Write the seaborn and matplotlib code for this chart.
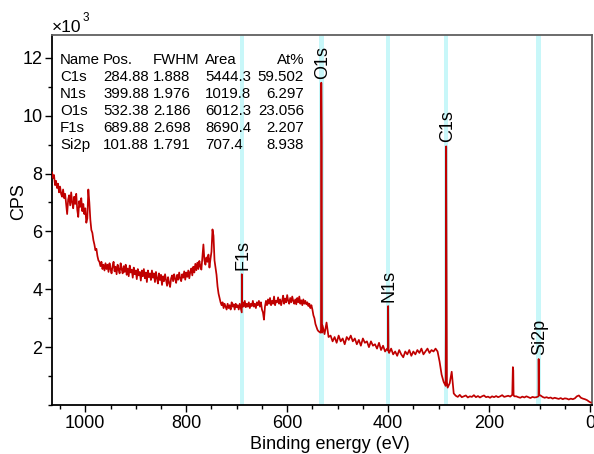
import numpy as np
import pandas as pd
import matplotlib
matplotlib.use("Agg")
import matplotlib.pyplot as plt
from matplotlib.ticker import MultipleLocator, FixedLocator
import seaborn as sns

# ---------------- data (counts in thousands of CPS) ----------------
# background survey spectrum: 2 eV grid from 1066 to 540 eV, 4 eV grid from 538 to -2 eV
bg_be = list(range(1066, 539, -2)) + list(range(538, -3, -4))
bg_cps = [
    # 1066 .. 992
    8.05, 7.85, 7.95, 7.60, 7.75, 7.50, 7.65, 7.35, 7.55, 7.30,
    7.20, 7.45, 7.15, 7.30, 6.95, 6.60, 7.10, 7.25, 6.90, 7.35,
    7.00, 6.80, 7.20, 6.95, 7.30, 6.75, 6.50, 7.05, 6.85, 7.15,
    6.70, 6.95, 6.60, 6.80, 6.30, 6.45, 7.45, 7.00,
    # 990 .. 960
    6.40, 6.05, 5.95, 5.70, 5.55, 5.35, 5.40, 5.15, 5.00, 4.95,
    4.80, 4.95, 4.70, 4.85, 4.65, 4.90,
    # 958 .. 830
    4.70, 4.85, 4.60, 4.90, 4.70, 4.55, 4.80, 4.95, 4.62, 4.78,
    4.52, 4.85, 4.68, 4.55, 4.90, 4.70, 4.55, 4.80, 4.60, 4.85,
    4.50, 4.72, 4.45, 4.82, 4.58, 4.68, 4.40, 4.75, 4.52, 4.65,
    4.35, 4.70, 4.48, 4.60, 4.30, 4.65, 4.45, 4.70, 4.38, 4.58,
    4.25, 4.65, 4.42, 4.55, 4.32, 4.65, 4.40, 4.55, 4.25, 4.60,
    4.38, 4.20, 4.55, 4.32, 4.50, 4.15, 4.45, 4.28, 4.52, 4.32,
    4.12, 4.42, 4.22, 4.08, 4.38,
    # 828 .. 740
    4.48, 4.28, 4.52, 4.36, 4.22, 4.50, 4.33, 4.58, 4.38, 4.28,
    4.52, 4.40, 4.62, 4.33, 4.58, 4.43, 4.65, 4.38, 4.60, 4.72,
    4.48, 4.78, 4.58, 4.88, 4.66, 4.92, 4.70, 4.98, 4.78, 4.68,
    5.10, 5.55, 5.00, 4.85, 5.10, 4.95, 5.20, 4.75, 5.05, 5.30,
    6.07, 5.85, 5.00, 4.75, 4.50,
    # 738 .. 540
    4.10, 3.85, 3.70, 3.55, 3.45, 3.55, 3.35, 3.50, 3.40, 3.30,
    3.50, 3.35, 3.45, 3.30, 3.55, 3.40, 3.48, 3.30, 3.50, 3.38,
    3.45, 3.30, 3.50, 3.35, 3.20, 3.55, 3.40, 3.60, 3.38, 3.50,
    3.40, 3.55, 3.35, 3.50, 3.42, 3.60, 3.40, 3.50, 3.35, 3.55,
    3.45, 3.60, 3.40, 3.55, 3.30, 3.20, 2.95, 3.40, 3.60, 3.45,
    3.65, 3.50, 3.70, 3.45, 3.60, 3.50, 3.75, 3.45, 3.60, 3.55,
    3.72, 3.50, 3.65, 3.45, 3.60, 3.78, 3.50, 3.68, 3.55, 3.80,
    3.60, 3.50, 3.70, 3.55, 3.75, 3.60, 3.50, 3.65, 3.48, 3.70,
    3.55, 3.75, 3.50, 3.62, 3.45, 3.65, 3.50, 3.60, 3.48, 3.55,
    3.42, 3.50, 3.35, 3.45, 3.30, 3.10, 3.00, 2.80, 2.70, 2.60,
    # 538 .. -2 (4 eV)
    2.55, 2.50, 2.75, 2.45, 2.85, 2.35, 2.40, 2.20,
    2.35, 2.15, 2.40, 2.20, 2.30, 2.10, 2.35, 2.25, 2.40, 2.20,
    2.30, 2.10, 2.25, 2.05, 2.30, 2.15, 2.20, 2.00, 2.20, 2.05,
    2.10, 1.95, 2.15, 1.90, 2.05, 1.85, 1.95, 1.80, 1.95, 1.75,
    1.85, 1.70, 1.90, 1.75, 1.65, 1.85, 1.75, 1.90, 1.70, 1.85,
    1.75, 1.90, 1.80, 1.95, 1.75, 1.85, 1.95, 1.80, 1.90, 1.85,
    1.95, 1.85, 1.50, 1.05, 0.80, 0.66, 0.60, 0.75, 1.15, 0.40,
    0.32, 0.28, 0.35, 0.27, 0.30, 0.33, 0.26, 0.30, 0.28, 0.34,
    0.27, 0.31, 0.26, 0.30, 0.33, 0.27, 0.29, 0.25, 0.30, 0.27,
    0.31, 0.27, 0.30, 0.34, 0.28, 0.30, 0.32, 0.29, 0.35, 0.30,
    0.30, 0.27, 0.25, 0.29, 0.26, 0.30, 0.27, 0.24, 0.28, 0.26,
    0.27, 0.30, 0.33, 0.28, 0.25, 0.27, 0.24, 0.26, 0.22, 0.25,
    0.23, 0.21, 0.24, 0.20, 0.23, 0.22, 0.19, 0.22, 0.20, 0.23,
    0.30, 0.33, 0.25, 0.22, 0.20, 0.17, 0.12, 0.08,
]

# sharp photoelectron lines (points read from the spikes)
pk_be = [689.9, 689.2,
         533.0, 532.4, 531.6, 531.0,
         400.5, 399.9, 399.2,
         285.6, 284.9, 284.2, 283.5,
         152.8, 152.0, 151.4,
         101.7, 101.1]
pk_cps = [4.52, 3.40,
          2.60, 11.14, 9.07, 2.50,
          1.90, 3.42, 1.85,
          2.56, 8.94, 5.32, 0.80,
          1.31, 1.20, 0.35,
          1.59, 0.35]

# peak labels / marker bands
peak_names = ["F1s", "O1s", "N1s", "C1s", "Si2p"]
peak_pos = [689.88, 532.38, 399.88, 284.88, 101.88]
peak_top = [4.52, 11.14, 3.42, 8.94, 1.59]

# quantification table
tbl_header = ["Name", "Pos.", "FWHM", "Area", "At%"]
tbl_name = ["C1s", "N1s", "O1s", "F1s", "Si2p"]
tbl_pos = ["284.88", "399.88", "532.38", "689.88", "101.88"]
tbl_fwhm = ["1.888", "1.976", "2.186", "2.698", "1.791"]
tbl_area = ["5444.3", "1019.8", "6012.3", "8690.4", "707.4"]
tbl_at = ["59.502", "6.297", "23.056", "2.207", "8.938"]

x_major = [1000, 800, 600, 400, 200, 0]
y_major = [2, 4, 6, 8, 10, 12]

# ---------------- build dataframe ----------------
df = pd.DataFrame({"be": bg_be + pk_be, "cps": bg_cps + pk_cps})
df = df.sort_values("be", ascending=False).reset_index(drop=True)

# ---------------- plot ----------------
sns.set_style("ticks")
plt.rcParams["font.family"] = ["Liberation Sans", "DejaVu Sans"]
plt.rcParams["text.color"] = "black"
plt.rcParams["axes.labelcolor"] = "black"
plt.rcParams["xtick.color"] = "black"
plt.rcParams["ytick.color"] = "black"

W, H = 594, 454
fig = plt.figure(figsize=(W / 100, H / 100), dpi=100)
L, R, T, B = 52, 592, 35, 405
ax = fig.add_axes([L / W, 1 - B / H, (R - L) / W, (B - T) / H])

band_c = "#c8f7f9"
for p in peak_pos:
    ax.axvspan(p + 4.5, p - 4.5, color=band_c, lw=0, zorder=0)

sns.lineplot(data=df, x="be", y="cps", estimator=None, sort=False,
             color="#c00000", lw=1.25, ax=ax, zorder=3)

for name, p, h in zip(peak_names, peak_pos, peak_top):
    ax.annotate(name, (p, h), xytext=(0.8, 3), textcoords="offset points",
                rotation=90, ha="center", va="bottom", fontsize=13,
                color="black", zorder=4)

ax.set_xlim(1066, -4)
ax.set_ylim(0, 12.79)
ax.xaxis.set_major_locator(FixedLocator(x_major))
ax.xaxis.set_minor_locator(MultipleLocator(50))
ax.yaxis.set_major_locator(FixedLocator(y_major))
ax.yaxis.set_minor_locator(MultipleLocator(1))
ax.set_xticklabels([str(v) for v in x_major])
ax.set_yticklabels([str(v) for v in y_major])
ax.tick_params(axis="both", which="major", direction="out", length=5,
               width=1.0, labelsize=13, pad=2, color="black", labelcolor="black")
ax.tick_params(axis="both", which="minor", direction="out", length=3,
               width=1.0, color="black")

for s in ["left", "bottom"]:
    ax.spines[s].set_color("black")
    ax.spines[s].set_linewidth(1.3)
for s in ["top", "right"]:
    ax.spines[s].set_visible(True)
    ax.spines[s].set_color("#606060")
    ax.spines[s].set_linewidth(1.3)

ax.set_xlabel("Binding energy (eV)", fontsize=13, color="black")
ax.set_ylabel("CPS", fontsize=13, color="black")
ax.xaxis.set_label_coords(0.515, -0.083)
ax.yaxis.set_label_coords(-0.046, 0.55)

# x10^3 multiplier
fig.text(52 / W, 1 - 32 / H, "\u00d710", fontsize=12.5, ha="left", va="baseline")
fig.text(83 / W, 1 - 21 / H, "3", fontsize=8.5, ha="left", va="baseline")

# table
fs = 10.8
base_y = [64, 81, 98, 115, 132, 149]
col_x = [60, 103, 153, 205]
for j, htxt in enumerate(tbl_header[:4]):
    fig.text(col_x[j] / W, 1 - base_y[0] / H, htxt, fontsize=fs, ha="left", va="baseline")
fig.text(304 / W, 1 - base_y[0] / H, tbl_header[4], fontsize=fs, ha="right", va="baseline")
for i in range(len(tbl_name)):
    yy = 1 - base_y[i + 1] / H
    for j, col in enumerate([tbl_name, tbl_pos, tbl_fwhm, tbl_area]):
        fig.text(col_x[j] / W, yy, col[i], fontsize=fs, ha="left", va="baseline")
    fig.text(304 / W, yy, tbl_at[i], fontsize=fs, ha="right", va="baseline")

fig.savefig("out.png", dpi=100)
